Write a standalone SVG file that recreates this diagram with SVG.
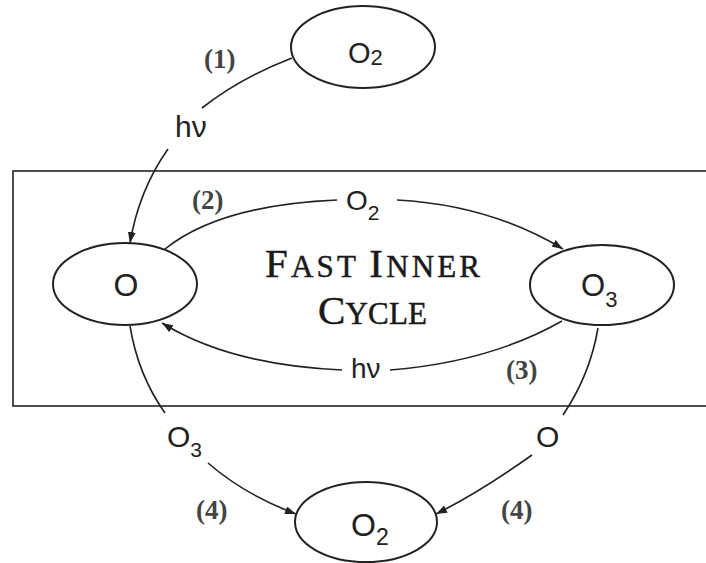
<svg xmlns="http://www.w3.org/2000/svg" width="706" height="563" viewBox="0 0 706 563">
<style>
.node{fill:#fff;stroke:#222;stroke-width:2}
.edge{fill:none;stroke:#222;stroke-width:1.6}
.lbl{font-family:"Liberation Sans",Arial,sans-serif;fill:#222}
.num{font-family:"Liberation Serif","Times New Roman",serif;font-weight:bold;font-size:27px;fill:#444}
.title{font-family:"Liberation Serif","Times New Roman",serif;fill:#1a1a1a;stroke:#1a1a1a;stroke-width:0.5}
</style>
<defs>
<marker id="arr" markerUnits="userSpaceOnUse" markerWidth="12" markerHeight="8" refX="11" refY="4" orient="auto">
<path d="M0,0 L11,4 L0,8 z" fill="#222"/>
</marker>
</defs>
<rect x="13" y="171" width="710" height="235" fill="none" stroke="#222" stroke-width="1.6"/>
<g id="title">
<text class="title" x="265" y="277" textLength="215" lengthAdjust="spacing"><tspan font-size="41">F</tspan><tspan font-size="31">AST </tspan><tspan font-size="41">I</tspan><tspan font-size="31">NNER</tspan></text>
<text class="title" x="318" y="324" textLength="109" lengthAdjust="spacing"><tspan font-size="41">C</tspan><tspan font-size="31">YCLE</tspan></text>
</g>
<g id="connectors">
<path class="edge" d="M292,58 Q240,78 202,108"/>
<path class="edge" d="M168,149 Q139,190 130,243" marker-end="url(#arr)"/>
<path class="edge" d="M165,249 Q220,205 337,200"/>
<path class="edge" d="M397,200 Q490,205 563,249" marker-end="url(#arr)"/>
<path class="edge" d="M562,321 Q490,362 390,370"/>
<path class="edge" d="M342,370 Q230,365 162,323" marker-end="url(#arr)"/>
<path class="edge" d="M130,326 Q138,375 165,413"/>
<path class="edge" d="M208,463 Q245,495 296,514" marker-end="url(#arr)"/>
<path class="edge" d="M598,328 Q590,375 563,415"/>
<path class="edge" d="M532,455 Q480,492 436,514" marker-end="url(#arr)"/>
<text class="lbl" x="175" y="137" font-size="30">hν</text>
<text class="lbl" x="346" y="210" font-size="28">O<tspan font-size="21" dy="10">2</tspan></text>
<text class="lbl" x="351" y="378" font-size="28">hν</text>
<text class="lbl" x="167" y="447" font-size="30">O<tspan font-size="21" dy="10">3</tspan></text>
<text class="lbl" x="536" y="447" font-size="30">O</text>
<text class="num" x="204" y="68">(1)</text>
<text class="num" x="192" y="209">(2)</text>
<text class="num" x="506" y="379">(3)</text>
<text class="num" x="196" y="519">(4)</text>
<text class="num" x="501" y="519">(4)</text>
</g>
<g id="node-o2-top">
<ellipse class="node" cx="363" cy="47" rx="72" ry="41"/>
<text class="lbl" x="348" y="63" font-size="29">O<tspan font-size="22" dy="2">2</tspan></text>
</g>
<g id="node-o">
<ellipse class="node" cx="125" cy="284" rx="72" ry="41"/>
<text class="lbl" x="126" y="296" font-size="32" text-anchor="middle">O</text>
</g>
<g id="node-o3">
<ellipse class="node" cx="602" cy="285" rx="72" ry="40"/>
<text class="lbl" x="581" y="296" font-size="31">O<tspan font-size="22" dy="11">3</tspan></text>
</g>
<g id="node-o2-bottom">
<ellipse class="node" cx="366" cy="522" rx="71" ry="40"/>
<text class="lbl" x="351" y="536" font-size="32">O<tspan font-size="23" dy="9">2</tspan></text>
</g>
</svg>
